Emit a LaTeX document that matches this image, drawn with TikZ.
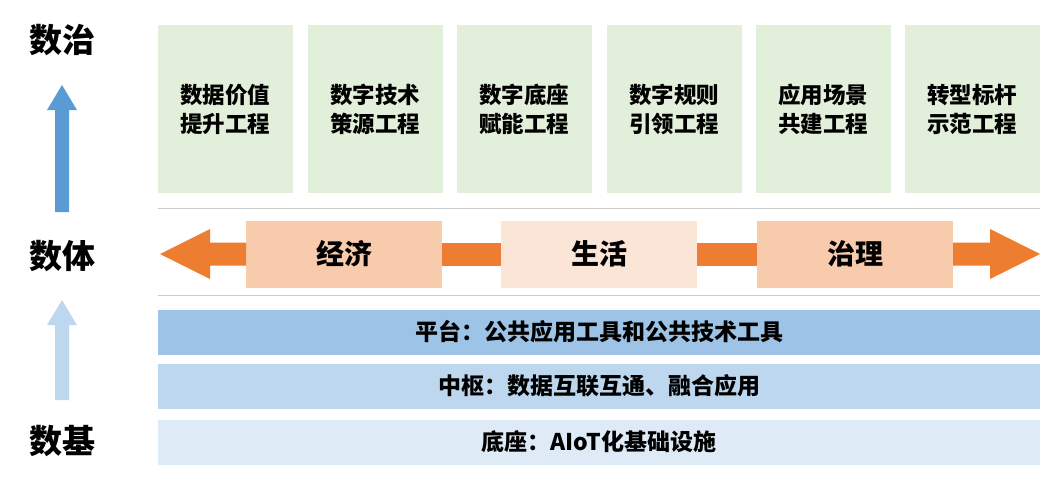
\documentclass[tikz,border=0pt]{standalone}
\usepackage{fontspec}
\setmainfont{Noto Sans CJK SC}
\usetikzlibrary{positioning}
\definecolor{govgreen}{HTML}{E2EFDA}
\definecolor{deeporange}{HTML}{F8CBAD}
\definecolor{paleorange}{HTML}{FBE5D6}
\definecolor{barorange}{HTML}{ED7D31}
\definecolor{blueA}{HTML}{9DC3E6}
\definecolor{blueB}{HTML}{BDD7EE}
\definecolor{blueC}{HTML}{DEEBF7}
\definecolor{arrowblue}{HTML}{5B9BD5}
\begin{document}
\begin{tikzpicture}[
    x=1pt, y=-1pt,
    project/.style={fill=govgreen, minimum width=135pt, minimum height=168pt, align=center, font=\fontsize{22.5}{29}\selectfont\bfseries, inner sep=0pt},
    field/.style={minimum width=196pt, minimum height=67pt, font=\fontsize{28}{32}\selectfont\bfseries, inner sep=0pt},
    layer/.style={minimum width=882pt, minimum height=45pt, font=\fontsize{23}{28}\selectfont\bfseries, inner sep=0pt},
    side/.style={font=\fontsize{33}{36}\selectfont\bfseries}
]
    \useasboundingbox (0,0) rectangle (1046,488);
    % left side labels
    \node[side] (top) at (62,40) {数治};
    \node[side] (mid) at (62,256) {数体};
    \node[side] (base) at (62,441) {数基};
    \fill[arrowblue] (55,212) -- (55,110) -- (47,110) -- (62,85) -- (77,110) -- (69,110) -- (69,212) -- cycle;
    \fill[blueB] (55,400) -- (55,325) -- (47,325) -- (62,300) -- (77,325) -- (69,325) -- (69,400) -- cycle;
    % projects
    \foreach \x/\txt [count=\i] in {225/数据价值\\提升工程, 375/数字技术\\策源工程, 524/数字底座\\赋能工程,
                                    674/数字规则\\引领工程, 823/应用场景\\共建工程, 972/转型标杆\\示范工程}
        \node[project] (proj\i) at (\x,109) {\txt};
    % separators
    \draw[gray!40] (158,208) -- (1040,208);
    \draw[gray!40] (158,295) -- (1040,295);
    % fields
    \node[field, fill=deeporange] (econ) at (344,254) {经济};
    \node[field, fill=paleorange] (life) at (599,254) {生活};
    \node[field, fill=deeporange] (gov) at (855,254) {治理};
    \fill[barorange] ([yshift=-11.5pt]econ.east) rectangle ([yshift=11.5pt]life.west);
    \fill[barorange] ([yshift=-11.5pt]life.east) rectangle ([yshift=11.5pt]gov.west);
    \coordinate (lefttip) at (160,254);
    \coordinate (righttip) at (1040,254);
    \fill[barorange] (246,242.5) -- (210,242.5) -- (210,229) -- (lefttip) -- (210,279) -- (210,265.5) -- (246,265.5) -- cycle;
    \fill[barorange] (953,242.5) -- (990,242.5) -- (990,229) -- (righttip) -- (990,279) -- (990,265.5) -- (953,265.5) -- cycle;
    % layers
    \node[layer, fill=blueA] (platform) at (599,332) {平台：公共应用工具和公共技术工具};
    \node[layer, fill=blueB] (hub) at (599,386) {中枢：数据互联互通、融合应用};
    \node[layer, fill=blueC] (ground) at (599,442) {底座：AIoT化基础设施};
\end{tikzpicture}
\end{document}
